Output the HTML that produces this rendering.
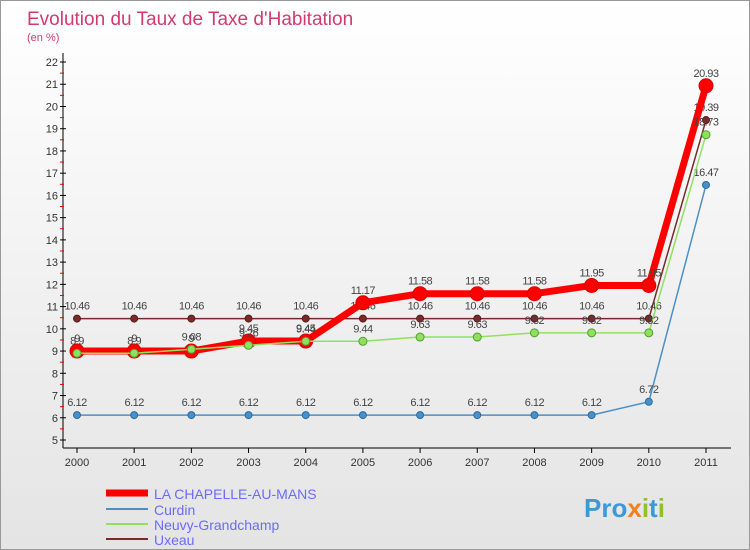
<!DOCTYPE html>
<html><head><meta charset="utf-8"><style>
body{margin:0}
#c{width:750px;height:550px;position:relative;font-family:"Liberation Sans",sans-serif;background:linear-gradient(#fff,#e4e4e4);border:1px solid #999;box-sizing:border-box;overflow:hidden}
</style></head><body>
<div id="c">
<svg width="750" height="550" id="svg">
<text x="26" y="24" font-size="19" fill="#d23a6e">Evolution du Taux de Taxe d'Habitation</text>
<text x="26" y="40" font-size="11" fill="#d23a6e">(en %)</text>
<g id="axes"></g><g id="series"></g>
<g font-size="14">
<line x1="105" y1="492" x2="147" y2="492" stroke="#f00" stroke-width="7"/>
<text x="153" y="498" fill="#6a6aff">LA CHAPELLE-AU-MANS</text>
<line x1="105" y1="508" x2="147" y2="508" stroke="#4a90c8" stroke-width="2"/>
<text x="153" y="514" fill="#6a6aff">Curdin</text>
<line x1="105" y1="523" x2="147" y2="523" stroke="#90e060" stroke-width="2"/>
<text x="153" y="529" fill="#6a6aff">Neuvy-Grandchamp</text>
<line x1="105" y1="538" x2="147" y2="538" stroke="#7a2a2a" stroke-width="2"/>
<text x="153" y="544" fill="#6a6aff">Uxeau</text>
</g>
<text x="583" y="516" font-size="26" font-weight="bold" fill="#3a9ad8">Pro<tspan fill="#f08020">x</tspan><tspan fill="#90c030">i</tspan>t<tspan fill="#90c030">i</tspan></text>
</svg></div>
<script>
const years=["2000","2001","2002","2003","2004","2005","2006","2007","2008","2009","2010","2011"];
const yTicks=[5,6,7,8,9,10,11,12,13,14,15,16,17,18,19,20,21,22];
const chapelle=[9,9,9,9.45,9.45,11.17,11.58,11.58,11.58,11.95,11.95,20.93];
const curdin=[6.12,6.12,6.12,6.12,6.12,6.12,6.12,6.12,6.12,6.12,6.72,16.47];
const neuvy=[8.9,8.9,9.08,9.26,9.44,9.44,9.63,9.63,9.82,9.82,9.82,18.73];
const uxeau=[10.46,10.46,10.46,10.46,10.46,10.46,10.46,10.46,10.46,10.46,10.46,19.39];
const NS="http://www.w3.org/2000/svg";
const X=i=>76+i*(629/11), Y=v=>439-(v-5)*(378/17);
function mk(t,a,p){const e=document.createElementNS(NS,t);for(const k in a)e.setAttribute(k,a[k]);p.appendChild(e);return e;}
const ax=document.getElementById('axes'),sg=document.getElementById('series');
let l=mk('line',{x1:62,y1:52,x2:62,y2:447,stroke:'#000'},ax);


l=mk('line',{x1:62,y1:447,x2:730,y2:447,stroke:'#000'},ax);


yTicks.forEach(v=>{
 mk('line',{x1:59,y1:Y(v),x2:65,y2:Y(v),stroke:'#000'},ax);
 if(v<22)mk('line',{x1:59,y1:Y(v+0.5),x2:63,y2:Y(v+0.5),stroke:'#e00'},ax);
 const t=mk('text',{x:57,y:Y(v)+4,'font-size':11,'text-anchor':'end',fill:'#333'},ax);
 
 
 t.textContent=v;
});
years.forEach((y,i)=>{
 mk('line',{x1:X(i),y1:447,x2:X(i),y2:452,stroke:'#000'},ax);
 const t=mk('text',{x:X(i),y:465,'font-size':11,'text-anchor':'middle',fill:'#333'},ax);
 
 
 t.textContent=y;
});
function series(d,col,w,r,name,dark){
 const p=mk('polyline',{points:d.map((v,i)=>X(i)+','+Y(v)).join(' '),fill:'none',stroke:col,'stroke-width':w,'stroke-linejoin':'round'},sg);
 
 
 d.forEach((v,i)=>{
  const c=mk('circle',{cx:X(i),cy:Y(v),r:r,fill:col,stroke:dark,'stroke-width':1},sg);
  
  
  const t=mk('text',{x:X(i),y:Y(v)-9,'font-size':11,'text-anchor':'middle',fill:'#444','letter-spacing':'-0.5'},sg);
  
  
  t.textContent=v;
 });
}
series(uxeau,'#7a2a2a',1.5,3.5,'uxeau','#5a1a1a');
series(curdin,'#4a90c8',1.5,3.5,'curdin','#2a6aa0');
series(chapelle,'#f00',7,7,'la-chapelle','#d00');
series(neuvy,'#90e060',1.5,4,'neuvy','#50a030');
</script>
</body></html>
